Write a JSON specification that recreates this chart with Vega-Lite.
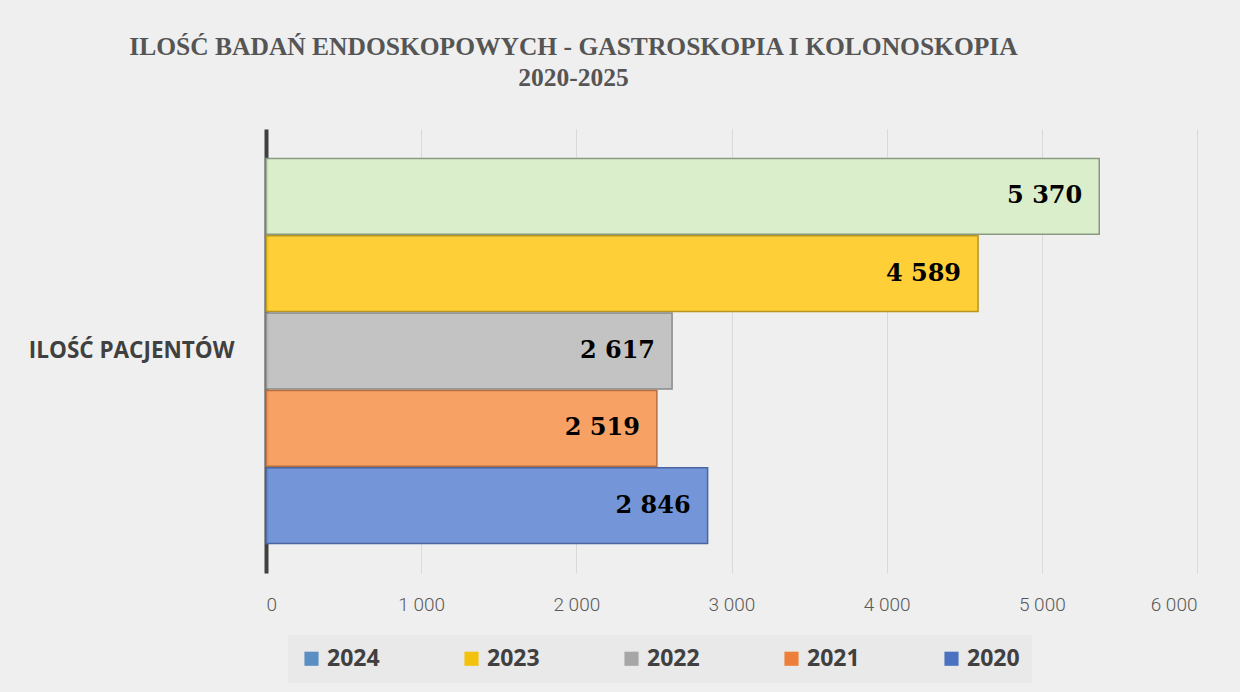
{
  "$schema": "https://vega.github.io/schema/vega-lite/v6.json",
  "width": 931,
  "height": 444,
  "autosize": {"type": "none"},
  "padding": {"left": 266, "top": 129, "right": 43, "bottom": 119},
  "background": "#efefef",
  "config": {
    "locale": {"number": {"decimal": ",", "thousands": "\u00a0", "grouping": [3], "currency": ["", " zł"]}},
    "view": {"stroke": null}
  },
  "title": {
    "text": ["ILOŚĆ BADAŃ ENDOSKOPOWYCH - GASTROSKOPIA I KOLONOSKOPIA", "2020-2025"],
    "font": "Liberation Serif",
    "fontSize": 25.5,
    "fontWeight": "bold",
    "color": "#555555",
    "lineHeight": 31,
    "anchor": "middle",
    "frame": "group",
    "dx": -158,
    "offset": 38
  },
  "data": {
    "values": [
      {"kategoria": "ILOŚĆ PACJENTÓW", "rok": "2024", "ilosc": 5370},
      {"kategoria": "ILOŚĆ PACJENTÓW", "rok": "2023", "ilosc": 4589},
      {"kategoria": "ILOŚĆ PACJENTÓW", "rok": "2022", "ilosc": 2617},
      {"kategoria": "ILOŚĆ PACJENTÓW", "rok": "2021", "ilosc": 2519},
      {"kategoria": "ILOŚĆ PACJENTÓW", "rok": "2020", "ilosc": 2846}
    ]
  },
  "encoding": {
    "y": {
      "field": "kategoria",
      "type": "nominal",
      "title": null,
      "scale": {"paddingInner": 0, "paddingOuter": 0},
      "axis": {
        "domainColor": "#404040",
        "domainWidth": 4,
        "ticks": false,
        "labelFont": "Open Sans",
        "labelFontWeight": "bold",
        "labelFontSize": 22.5,
        "labelColor": "#404040",
        "labelPadding": 32,
        "labelLimit": 300
      }
    },
    "yOffset": {
      "field": "rok",
      "type": "nominal",
      "sort": ["2024", "2023", "2022", "2021", "2020"],
      "scale": {"paddingInner": 0.02, "paddingOuter": 0.38}
    },
    "x": {
      "field": "ilosc",
      "type": "quantitative",
      "title": null,
      "scale": {"domain": [0, 6000], "nice": false},
      "axis": {
        "values": [0, 1000, 2000, 3000, 4000, 5000, 6000],
        "format": ",d",
        "grid": true,
        "gridColor": "#d9d9d9",
        "gridWidth": 1,
        "domain": false,
        "ticks": false,
        "labelFont": "Roboto",
        "labelFontWeight": 300,
        "labelFontSize": 19,
        "labelColor": "#595959",
        "labelPadding": 22
      }
    }
  },
  "layer": [
    {
      "mark": {"type": "bar", "fillOpacity": 0.93, "strokeWidth": 1.5},
      "encoding": {
        "color": {
          "field": "rok",
          "type": "nominal",
          "scale": {"domain": ["2024", "2023", "2022", "2021", "2020"], "range": ["#d8eec8", "#ffcc29", "#bfbfbf", "#f89b5a", "#6a8fd6"]},
          "legend": null
        },
        "stroke": {
          "field": "rok",
          "type": "nominal",
          "scale": {"domain": ["2024", "2023", "2022", "2021", "2020"], "range": ["#8a9a80", "#b89520", "#8a8a8a", "#b87040", "#4a65a0"]},
          "legend": null
        }
      }
    },
    {
      "mark": {"type": "square", "opacity": 0, "size": 1},
      "encoding": {
        "color": {
          "field": "rok",
          "type": "nominal",
          "scale": {"domain": ["2024", "2023", "2022", "2021", "2020"], "range": ["#5b8fc4", "#f2c20e", "#a6a6a6", "#ec7f3a", "#4a72c0"]},
          "legend": {
            "orient": "none",
            "direction": "horizontal",
            "columns": 5,
            "legendX": 22,
            "legendY": 506,
            "title": null,
            "fillColor": "#e9e9e9",
            "padding": 12,
            "symbolType": "square",
            "symbolSize": 200,
            "symbolOpacity": 1,
            "symbolStrokeWidth": 0,
            "labelFont": "Open Sans",
            "labelFontWeight": "bold",
            "labelFontSize": 23,
            "labelColor": "#404040",
            "labelOffset": 4,
            "columnPadding": 80
          }
        }
      }
    },
    {
      "mark": {"type": "text", "align": "right", "baseline": "middle", "dx": -17, "font": "DejaVu Serif", "fontWeight": "bold", "fontSize": 24, "color": "#000000"},
      "encoding": {
        "text": {"field": "ilosc", "type": "quantitative", "format": ",d"}
      }
    }
  ],
  "resolve": {"scale": {"color": "independent"}}
}
